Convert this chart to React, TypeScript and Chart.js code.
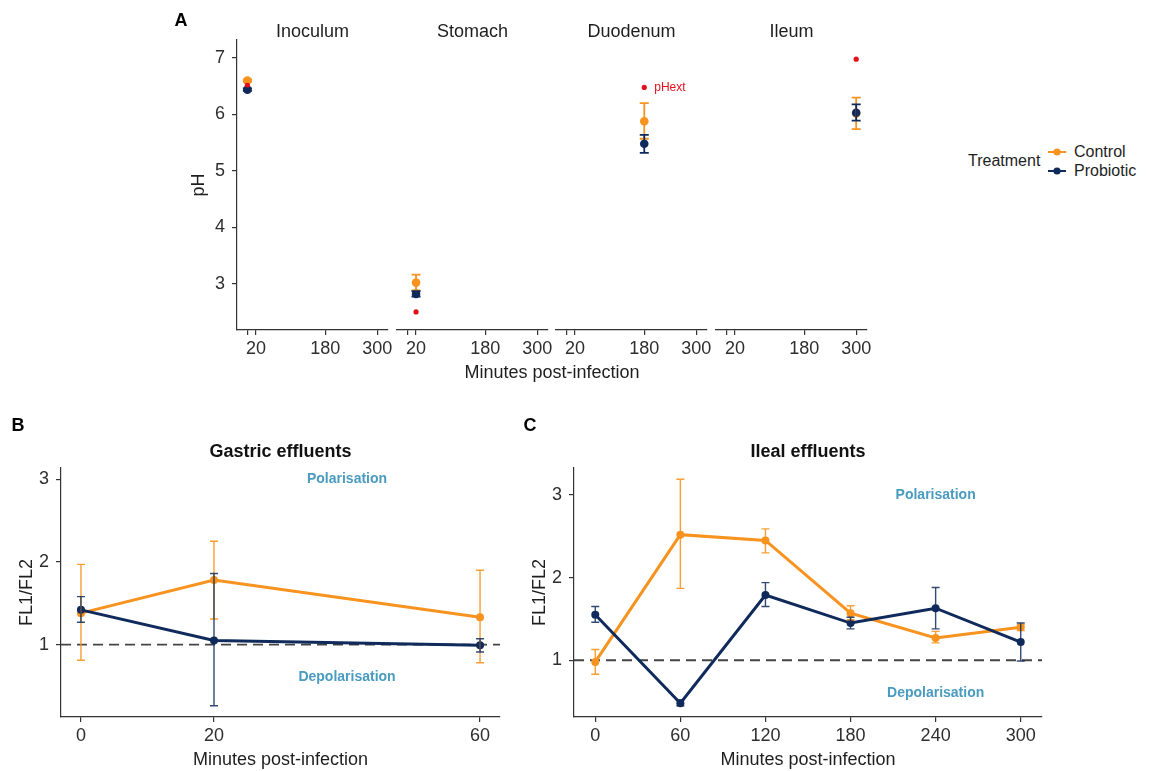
import React, { useEffect, useRef } from "react";
import { Chart, registerables } from "chart.js";

// ---------------- DATA ----------------
// Panel A: pH per compartment
const phFacets = ["Inoculum", "Stomach", "Duodenum", "Ileum"];
const phMinutes = [0, 20, 180, 300];
const phTickValues = [0, 20, 180, 300];
const phControl = [6.6, 3.02, 5.88, 6.02];
const phControlLow = [6.58, 2.88, 5.57, 5.74];
const phControlHigh = [6.62, 3.16, 6.2, 6.3];
const phProbiotic = [6.44, 2.82, 5.48, 6.03];
const phProbioticLow = [6.42, 2.77, 5.32, 5.89];
const phProbioticHigh = [6.46, 2.87, 5.64, 6.18];
const phExt = [6.52, 2.5, 6.48, 6.98];
const phYTicks = [3, 4, 5, 6, 7];

// Panel B: gastric effluents
const gastricMinutes = [0, 20, 60];
const gastricControl = [1.38, 1.78, 1.33];
const gastricControlLow = [0.81, 1.31, 0.78];
const gastricControlHigh = [1.97, 2.25, 1.9];
const gastricProbiotic = [1.42, 1.05, 0.99];
const gastricProbioticLow = [1.27, 0.26, 0.91];
const gastricProbioticHigh = [1.58, 1.86, 1.07];

// Panel C: ileal effluents
const ilealMinutes = [0, 60, 120, 180, 240, 300];
const ilealControl = [0.98, 2.52, 2.45, 1.57, 1.27, 1.4];
const ilealControlLow = [0.83, 1.87, 2.3, 1.49, 1.21, 1.36];
const ilealControlHigh = [1.13, 3.19, 2.59, 1.66, 1.35, 1.43];
const ilealProbiotic = [1.55, 0.48, 1.79, 1.45, 1.63, 1.22];
const ilealProbioticLow = [1.46, 0.45, 1.65, 1.38, 1.38, 0.99];
const ilealProbioticHigh = [1.65, 0.52, 1.94, 1.52, 1.88, 1.45];

const ratioYTicks = [1, 2, 3];

// ---------------- STYLE ----------------
const FONT = '"Liberation Sans", Arial, Helvetica, sans-serif';
const ORANGE = "#F7931E";
const NAVY = "#0F2A5B";
const RED = "#E3111B";
const NOTE = "#4A9BC0";
const AXIS = "#333333";
const TICK_TEXT = "#2E2E2E";
const TEXT = "#1E1E1E";

const font = (size: number, weight: string = "normal") => ({ family: FONT, size, weight, lineHeight: 1.2 });

// ---------------- PLUGINS ----------------
const errorBarPlugin = {
  id: "errorBars",
  afterDatasetsDraw(chart: any, _a: any, opts: any) {
    const { ctx, scales } = chart;
    const cap = (opts && opts.cap) || 4.5;
    const lw = (opts && opts.width) || 1.5;
    chart.data.datasets.forEach((ds: any) => {
      if (!ds.errLow || !ds.errHigh) return;
      ds.data.forEach((pt: any, j: number) => {
        const x = scales.x.getPixelForValue(pt.x);
        const y1 = scales.y.getPixelForValue(ds.errLow[j]);
        const y2 = scales.y.getPixelForValue(ds.errHigh[j]);
        ctx.save();
        ctx.strokeStyle = ds.errColor || ds.backgroundColor;
        ctx.lineWidth = lw;
        ctx.beginPath();
        ctx.moveTo(x, y1);
        ctx.lineTo(x, y2);
        ctx.moveTo(x - cap, y1);
        ctx.lineTo(x + cap, y1);
        ctx.moveTo(x - cap, y2);
        ctx.lineTo(x + cap, y2);
        ctx.stroke();
        ctx.restore();
      });
    });
  },
};

const refLinePlugin = {
  id: "refLine",
  beforeDatasetsDraw(chart: any, _a: any, opts: any) {
    if (!opts || opts.y == null) return;
    const { ctx, chartArea, scales } = chart;
    const y = scales.y.getPixelForValue(opts.y);
    ctx.save();
    ctx.strokeStyle = opts.color || "#444";
    ctx.lineWidth = opts.width || 1.5;
    ctx.setLineDash(opts.dash || [8, 6]);
    ctx.beginPath();
    ctx.moveTo(chartArea.left, y);
    ctx.lineTo(chartArea.right, y);
    ctx.stroke();
    ctx.restore();
  },
};

const dataTextPlugin = {
  id: "dataTexts",
  afterDatasetsDraw(chart: any, _a: any, opts: any) {
    if (!opts || !opts.items) return;
    const { ctx, scales } = chart;
    opts.items.forEach((it: any) => {
      const px = scales.x.getPixelForValue(it.x) + (it.dx || 0);
      const py = scales.y.getPixelForValue(it.y) + (it.dy || 0);
      ctx.save();
      ctx.font = `${it.weight || "normal"} ${it.size}px ${FONT}`;
      ctx.fillStyle = it.color;
      ctx.textAlign = it.align || "center";
      ctx.textBaseline = "middle";
      ctx.fillText(it.text, px, py);
      ctx.restore();
    });
  },
};

const topLabelPlugin = {
  id: "topLabel",
  afterDraw(chart: any, _a: any, opts: any) {
    if (!opts || !opts.text) return;
    const { ctx, chartArea } = chart;
    ctx.save();
    ctx.font = `${opts.weight || "normal"} ${opts.size}px ${FONT}`;
    ctx.fillStyle = opts.color || TEXT;
    ctx.textAlign = "center";
    ctx.textBaseline = "middle";
    ctx.fillText(opts.text, (chartArea.left + chartArea.right) / 2, chartArea.top - opts.gap);
    ctx.restore();
  },
};

Chart.register(...registerables, errorBarPlugin, refLinePlugin, dataTextPlugin, topLabelPlugin);

// ---------------- SCALE HELPERS ----------------
function makeX(min: number, max: number, ticks: number[], label: (v: number) => string, xHeight: number, title?: any) {
  return {
    type: "linear",
    min,
    max,
    afterBuildTicks: (s: any) => {
      s.ticks = ticks.map((v) => ({ value: v }));
    },
    afterFit: (s: any) => {
      s.height = xHeight;
    },
    ticks: {
      autoSkip: false,
      maxRotation: 0,
      minRotation: 0,
      padding: 3,
      color: TICK_TEXT,
      font: font(18),
      callback: (v: any) => label(Number(v)),
    },
    grid: { display: true, drawOnChartArea: false, drawTicks: true, tickLength: 5, color: AXIS, lineWidth: 1.2 },
    border: { display: true, color: AXIS, width: 1.2 },
    title: title || { display: false },
  };
}

function makeY(min: number, max: number, ticks: number[] | null, yWidth: number, title?: any) {
  if (!ticks) return { display: false, min, max };
  return {
    type: "linear",
    min,
    max,
    afterBuildTicks: (s: any) => {
      s.ticks = ticks.map((v) => ({ value: v }));
    },
    afterFit: (s: any) => {
      s.width = yWidth;
    },
    ticks: { padding: 7, color: TICK_TEXT, font: font(18), callback: (v: any) => String(v) },
    grid: { display: true, drawOnChartArea: false, drawTicks: true, tickLength: 5, color: AXIS, lineWidth: 1.2 },
    border: { display: true, color: AXIS, width: 1.2 },
    title: title || { display: false },
  };
}

type Rect = { left: number; top: number; right: number; bottom: number };
type Margin = { l: number; t: number; r: number; b: number };
interface PanelDef {
  key: string;
  area: Rect;
  margin: Margin;
  yWidth: number;
  xHeight: number;
  build: () => any;
}

// ---------------- PANEL CONFIGS ----------------
function phFacetConfig(i: number, yWidth: number, xHeight: number) {
  const x = phMinutes[i];
  const texts =
    i === 2
      ? [{ x, y: phExt[i], text: "pHext", color: RED, size: 12, dx: 10, align: "left" }]
      : [];
  return {
    type: "scatter",
    data: {
      datasets: [
        { label: "pHext", data: [{ x, y: phExt[i] }], backgroundColor: RED, pointRadius: 2.6, borderWidth: 0, order: 0 },
        {
          label: "Control",
          data: [{ x, y: phControl[i] }],
          errLow: [phControlLow[i]],
          errHigh: [phControlHigh[i]],
          backgroundColor: ORANGE,
          pointRadius: 4.3,
          borderWidth: 0,
          order: 2,
        },
        {
          label: "Probiotic",
          data: [{ x, y: phProbiotic[i] }],
          errLow: [phProbioticLow[i]],
          errHigh: [phProbioticHigh[i]],
          backgroundColor: NAVY,
          pointRadius: 4.3,
          borderWidth: 0,
          order: 1,
        },
      ],
    },
    options: {
      scales: {
        x: makeX(-24, 325, phTickValues, (v) => (v === 0 ? "" : String(v)), xHeight),
        y: makeY(
          2.18,
          7.32,
          i === 0 ? phYTicks : null,
          yWidth,
          { display: true, text: "pH", color: TEXT, font: font(18), padding: { top: 3, bottom: 0 } }
        ),
      },
      plugins: {
        errorBars: { cap: 4.5, width: 1.8 },
        dataTexts: { items: texts },
        topLabel: { text: phFacets[i], size: 18, gap: 8, color: TEXT },
      },
    },
  };
}

function lineConfig(
  minutes: number[],
  ctrl: number[],
  ctrlLo: number[],
  ctrlHi: number[],
  prob: number[],
  probLo: number[],
  probHi: number[],
  xMin: number,
  xMax: number,
  yMin: number,
  yMax: number,
  title: string,
  noteX: number,
  yWidth: number,
  xHeight: number
) {
  return {
    type: "scatter",
    data: {
      datasets: [
        {
          label: "Control",
          data: minutes.map((m, j) => ({ x: m, y: ctrl[j] })),
          errLow: ctrlLo,
          errHigh: ctrlHi,
          errColor: "rgba(247,147,30,0.9)",
          showLine: true,
          borderColor: ORANGE,
          backgroundColor: ORANGE,
          borderWidth: 3,
          pointRadius: 4,
          pointBorderWidth: 0,
          order: 2,
        },
        {
          label: "Probiotic",
          data: minutes.map((m, j) => ({ x: m, y: prob[j] })),
          errLow: probLo,
          errHigh: probHi,
          errColor: "rgba(15,42,91,0.85)",
          showLine: true,
          borderColor: NAVY,
          backgroundColor: NAVY,
          borderWidth: 3,
          pointRadius: 4,
          pointBorderWidth: 0,
          order: 1,
        },
      ],
    },
    options: {
      scales: {
        x: makeX(xMin, xMax, minutes, (v) => String(v), xHeight, {
          display: true,
          text: "Minutes post-infection",
          color: TEXT,
          font: font(18),
          padding: { top: 4, bottom: 0 },
        }),
        y: makeY(yMin, yMax, ratioYTicks, yWidth, {
          display: true,
          text: "FL1/FL2",
          color: TEXT,
          font: font(18),
          padding: { top: 6, bottom: 0 },
        }),
      },
      plugins: {
        errorBars: { cap: 4, width: 1.4 },
        refLine: { y: 1, color: "#444444", width: 1.8, dash: [10, 6] },
        dataTexts: {
          items: [
            { x: noteX, y: 3, text: "Polarisation", color: NOTE, size: 14, weight: "bold" },
            { x: noteX, y: 0.6, text: "Depolarisation", color: NOTE, size: 14, weight: "bold" },
          ],
        },
        topLabel: { text: title, size: 18, weight: "bold", gap: 16, color: "#111" },
      },
    },
  };
}

const facetLefts = [237, 397, 556, 716];

const panels: PanelDef[] = [
  ...phFacets.map((_, i) => {
    const yWidth = i === 0 ? 52 : 0;
    const xHeight = 35;
    return {
      key: "A" + i,
      area: { left: facetLefts[i], top: 40, right: facetLefts[i] + 151, bottom: 330 },
      margin: { l: i === 0 ? 52 : 6, t: 30, r: 12, b: 35 },
      yWidth,
      xHeight,
      build: () => phFacetConfig(i, yWidth, xHeight),
    };
  }),
  {
    key: "B",
    area: { left: 61, top: 468, right: 500, bottom: 717 },
    margin: { l: 51, t: 38, r: 20, b: 54 },
    yWidth: 51,
    xHeight: 54,
    build: () =>
      lineConfig(
        gastricMinutes,
        gastricControl,
        gastricControlLow,
        gastricControlHigh,
        gastricProbiotic,
        gastricProbioticLow,
        gastricProbioticHigh,
        -3,
        63,
        0.123,
        3.137,
        "Gastric effluents",
        40,
        51,
        54
      ),
  },
  {
    key: "C",
    area: { left: 574, top: 468, right: 1042, bottom: 717 },
    margin: { l: 51, t: 38, r: 20, b: 54 },
    yWidth: 51,
    xHeight: 54,
    build: () =>
      lineConfig(
        ilealMinutes,
        ilealControl,
        ilealControlLow,
        ilealControlHigh,
        ilealProbiotic,
        ilealProbioticLow,
        ilealProbioticHigh,
        -15,
        315,
        0.313,
        3.327,
        "Ileal effluents",
        240,
        51,
        54
      ),
  },
];

function ChartCanvas({ def }: { def: PanelDef }) {
  const ref = useRef<HTMLCanvasElement | null>(null);
  const { area, margin, yWidth, xHeight } = def;
  const w = area.right - area.left + margin.l + margin.r;
  const h = area.bottom - area.top + margin.t + margin.b;
  useEffect(() => {
    if (!ref.current) return;
    const cfg = def.build();
    cfg.options = {
      ...cfg.options,
      responsive: false,
      maintainAspectRatio: false,
      animation: false,
      devicePixelRatio: 1,
      layout: {
        padding: { left: margin.l - yWidth, right: margin.r, top: margin.t, bottom: margin.b - xHeight },
      },
      plugins: { ...cfg.options.plugins, legend: { display: false }, tooltip: { enabled: false } },
    };
    const chart = new Chart(ref.current, cfg);
    return () => chart.destroy();
  }, []);
  return (
    <canvas
      ref={ref}
      width={w}
      height={h}
      style={{ position: "absolute", left: area.left - margin.l, top: area.top - margin.t, width: w, height: h, display: "block" }}
    />
  );
}

function Txt({ x, y, children, style }: { x: number; y: number; children: any; style?: any }) {
  return (
    <div
      style={{
        position: "absolute",
        left: x,
        top: y,
        transform: "translate(-50%, -50%)",
        whiteSpace: "nowrap",
        fontFamily: FONT,
        lineHeight: 1,
        ...style,
      }}
    >
      {children}
    </div>
  );
}

export default function App() {
  return (
    <div
      style={{
        position: "absolute",
        left: 0,
        top: 0,
        width: 1157,
        height: 771,
        overflow: "hidden",
        background: "#ffffff",
        fontFamily: FONT,
      }}
    >
      {panels.map((p) => (
        <ChartCanvas key={p.key} def={p} />
      ))}
      <Txt x={181} y={20} style={{ fontWeight: "bold", fontSize: 18, color: "#000" }}>A</Txt>
      <Txt x={18} y={425} style={{ fontWeight: "bold", fontSize: 18, color: "#000" }}>B</Txt>
      <Txt x={530} y={425} style={{ fontWeight: "bold", fontSize: 18, color: "#000" }}>C</Txt>
      <Txt x={552} y={372} style={{ fontSize: 18, color: TEXT }}>Minutes post-infection</Txt>
      {/* Legend */}
      <div style={{ position: "absolute", left: 968, top: 161, transform: "translateY(-50%)", fontSize: 16, color: TEXT, lineHeight: 1, whiteSpace: "nowrap" }}>
        Treatment
      </div>
      <svg style={{ position: "absolute", left: 1046, top: 142 }} width={22} height={40}>
        <line x1={2} y1={10} x2={20} y2={10} stroke={ORANGE} strokeWidth={2} />
        <circle cx={11} cy={10} r={3.6} fill={ORANGE} />
        <line x1={2} y1={29} x2={20} y2={29} stroke={NAVY} strokeWidth={2} />
        <circle cx={11} cy={29} r={3.6} fill={NAVY} />
      </svg>
      <div style={{ position: "absolute", left: 1074, top: 152, transform: "translateY(-50%)", fontSize: 16, color: TEXT, lineHeight: 1, whiteSpace: "nowrap" }}>
        Control
      </div>
      <div style={{ position: "absolute", left: 1074, top: 171, transform: "translateY(-50%)", fontSize: 16, color: TEXT, lineHeight: 1, whiteSpace: "nowrap" }}>
        Probiotic
      </div>
    </div>
  );
}
